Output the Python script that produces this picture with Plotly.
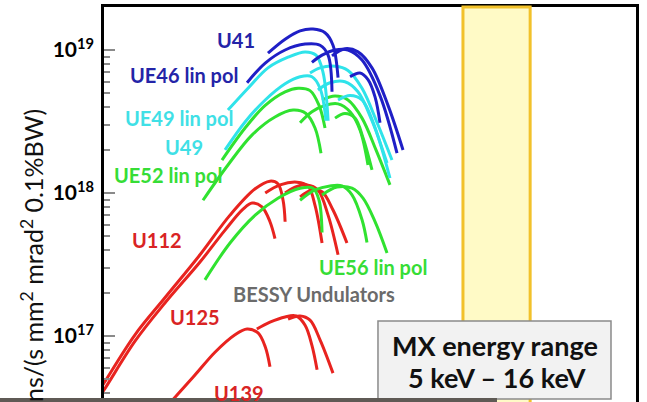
import plotly.graph_objects as go
import numpy as np

# ---- data: photon energy (eV) and brilliance (ph/(s mm^2 mrad^2 0.1%BW)) ----
# U41 / UE46 (dark blue)
u41_a_ev = [171, 230, 298, 373, 459, 527, 575]
u41_a_b = [9.5e18, 1.19e19, 1.36e19, 1.40e19, 1.32e19, 1.08e19, 6.4e18]
ue46_a_ev = [119, 163, 230, 325, 421, 484, 518]
ue46_a_b = [5.9e18, 8.1e18, 1.0e19, 1.10e19, 1.08e19, 9.2e18, 5.1e18]
u41_b_ev = [366, 436, 546, 683, 871, 1189, 1596]
u41_b_b = [8.2e18, 9.2e18, 1.0e19, 1.0e19, 8.5e18, 4.8e18, 1.9e18]
ue46_b_ev = [518, 648, 812, 1035, 1366, 1771]
ue46_b_b = [9.1e18, 1.02e19, 9.7e18, 7.5e18, 4.1e18, 2.0e18]
u41_c_ev = [708, 841, 966, 1091, 1189]
u41_c_b = [6.5e18, 6.9e18, 6.2e18, 4.7e18, 3.1e18]

# UE49 / U49 (cyan)
ue49_a_ev = [85.5, 121, 171, 242, 325, 393, 443, 484]
ue49_a_b = [3.8e18, 5.4e18, 7.5e18, 8.9e18, 9.7e18, 9.2e18, 7.0e18, 3.2e18]
u49_a_ev = [81.3, 115, 163, 230, 298, 366, 421, 467]
u49_a_b = [2.0e18, 3.14e18, 4.47e18, 5.8e18, 6.5e18, 6.5e18, 5.4e18, 3.2e18]
ue49_b_ev = [354, 421, 546, 683, 871, 1148, 1463]
ue49_b_b = [6.9e18, 7.5e18, 7.7e18, 7.2e18, 5.4e18, 3.0e18, 1.7e18]
u49_b_ev = [406, 500, 648, 812, 1035, 1343]
u49_b_b = [5.25e18, 5.9e18, 6.0e18, 5.1e18, 3.2e18, 1.62e18]
u49_c_ev = [575, 708, 871, 1072, 1413]
u49_c_b = [4.47e18, 4.8e18, 4.47e18, 3.0e18, 1.27e18]

# UE52 (green, upper group)
ue52_a_ev = [77.1, 115, 163, 230, 288, 354, 414, 459]
ue52_a_b = [1.7e18, 2.85e18, 4.1e18, 5.1e18, 5.4e18, 5.2e18, 4.1e18, 2.85e18]
ue52_b_ev = [55.5, 85.5, 130, 193, 264, 330, 386, 428]
ue52_b_b = [8.9e17, 1.57e18, 2.55e18, 3.4e18, 3.8e18, 3.6e18, 2.85e18, 1.9e18]
ue52_c_ev = [298, 366, 459, 575, 708, 841, 966]
ue52_c_b = [3.1e18, 3.7e18, 4.1e18, 4.2e18, 3.7e18, 2.76e18, 1.57e18]
ue52_d_ev = [436, 546, 683, 871, 1109, 1413]
ue52_d_b = [4.47e18, 4.76e18, 4.47e18, 3.34e18, 2.0e18, 1.14e18]
ue52_e_ev = [546, 648, 771, 886, 1035]
ue52_e_b = [3.34e18, 3.6e18, 3.34e18, 2.43e18, 1.45e18]

# UE56 (green, lower group)
ue56_a_ev = [57.4, 88.6, 137, 203, 298, 373, 414, 436]
ue56_a_b = [2.47e17, 4.47e17, 7.0e17, 9.2e17, 1.08e18, 1.08e18, 8.9e17, 5.3e17]
ue56_b_ev = [298, 386, 500, 616, 732, 871, 949]
ue56_b_b = [8.9e17, 1.05e18, 1.12e18, 1.12e18, 9.7e17, 6.5e17, 4.5e17]
ue56_c_ev = [436, 565, 732, 886, 1091, 1343]
ue56_c_b = [9.7e17, 1.10e18, 1.08e18, 9.2e17, 6.3e17, 3.8e17]

# U112 (red)
u112_a_ev = [7.85, 10, 17.1, 28.7, 52.7, 88.6, 137, 177, 203, 222, 230]
u112_a_b = [3.29e16, 4.69e16, 1.02e17, 1.85e17, 3.7e17, 7.0e17, 1.07e18, 1.21e18, 1.16e18, 8.9e17, 6.3e17]
u112_b_ev = [7.85, 10, 17.1, 28.7, 52.7, 81.3, 111, 130, 154, 177, 193]
u112_b_b = [2.99e16, 4.19e16, 9.2e16, 1.70e17, 3.29e17, 5.5e17, 7.7e17, 8.5e17, 8.0e17, 6.3e17, 4.8e17]
u112_c_ev = [163, 211, 283, 342, 386, 436]
u112_c_b = [1.0e18, 1.14e18, 1.19e18, 1.12e18, 8.2e17, 4.47e17]
u112_d_ev = [230, 273, 336, 406, 484, 575]
u112_d_b = [1.0e18, 1.10e18, 1.14e18, 1.05e18, 7.0e17, 3.7e17]
u112_e_ev = [298, 366, 436, 527, 671]
u112_e_b = [9.4e17, 1.05e18, 1.02e18, 7.6e17, 4.47e17]

# U125 / U139 (red, bottom)
u125_a_ev = [31.3, 48.3, 68.3, 96.6, 119, 144, 163, 177]
u125_a_b = [3.40e16, 5.33e16, 7.7e16, 1.02e17, 1.12e17, 1.05e17, 8.4e16, 6.1e16]
u125_b_ev = [141, 177, 230, 278, 325, 366, 400]
u125_b_b = [1.12e17, 1.25e17, 1.36e17, 1.38e17, 1.19e17, 8.6e16, 5.8e16]
u125_c_ev = [242, 298, 354, 421, 527]
u125_c_b = [1.31e17, 1.38e17, 1.29e17, 9.4e16, 5.5e16]

mx_range_ev = [5000, 16000]
x_range_ev = [10, 100000]
y_tick_vals = [1e17, 1e18, 1e19]
y_tick_text = ["10<sup>17</sup>", "10<sup>18</sup>", "10<sup>19</sup>"]

RED = "#e8231f"
GREEN = "#30e230"
CYAN = "#2fe3ea"
BLUE = "#1f1fc6"

curves = [
    (u125_a_ev, u125_a_b, RED), (u125_b_ev, u125_b_b, RED), (u125_c_ev, u125_c_b, RED),
    (u112_a_ev, u112_a_b, RED), (u112_b_ev, u112_b_b, RED), (u112_c_ev, u112_c_b, RED),
    (u112_d_ev, u112_d_b, RED), (u112_e_ev, u112_e_b, RED),
    (ue56_a_ev, ue56_a_b, GREEN), (ue56_b_ev, ue56_b_b, GREEN), (ue56_c_ev, ue56_c_b, GREEN),
    (ue52_a_ev, ue52_a_b, GREEN), (ue52_b_ev, ue52_b_b, GREEN), (ue52_c_ev, ue52_c_b, GREEN),
    (ue52_d_ev, ue52_d_b, GREEN), (ue52_e_ev, ue52_e_b, GREEN),
    (ue49_a_ev, ue49_a_b, CYAN), (u49_a_ev, u49_a_b, CYAN), (ue49_b_ev, ue49_b_b, CYAN),
    (u49_b_ev, u49_b_b, CYAN), (u49_c_ev, u49_c_b, CYAN),
    (u41_a_ev, u41_a_b, BLUE), (ue46_a_ev, ue46_a_b, BLUE), (u41_b_ev, u41_b_b, BLUE),
    (ue46_b_ev, ue46_b_b, BLUE), (u41_c_ev, u41_c_b, BLUE),
]

fig = go.Figure()
for ev, b, col in curves:
    fig.add_trace(go.Scatter(x=ev, y=b, mode="lines",
                             line=dict(color=col, width=3, shape="spline", smoothing=1.0),
                             hoverinfo="skip", showlegend=False))

minor_vals = [k * 10.0 ** n for n in (16, 17, 18) for k in range(2, 10)]
lr = np.log10(x_range_ev)

fig.update_layout(
    width=647, height=402,
    margin=dict(l=104, r=11, t=7, b=0),
    paper_bgcolor="white", plot_bgcolor="white",
    showlegend=False,
    xaxis=dict(type="log", range=list(lr), side="top", showline=True, linecolor="black",
               linewidth=2.5, showticklabels=False, ticks="", showgrid=False, zeroline=False),
    yaxis=dict(type="log", range=[16.5385, 19.3007], showline=True, mirror=True,
               linecolor="black", linewidth=2.5, showgrid=False, zeroline=False,
               tickmode="array", tickvals=y_tick_vals, ticktext=y_tick_text,
               ticks="inside", ticklen=11, tickwidth=1.5, tickcolor="#8a8a8a",
               ticklabelstandoff=3,
               tickfont=dict(family="Lato", size=21, color="black", weight="bold"),
               minor=dict(tickmode="array", tickvals=minor_vals, ticks="inside",
                          ticklen=6, tickwidth=1.5, tickcolor="#8a8a8a", showgrid=False)),
)

# MX energy band, positioned via the log x-axis range
bx = (np.log10(mx_range_ev) - lr[0]) / (lr[1] - lr[0])
fig.add_shape(type="rect", xref="paper", yref="paper", x0=bx[0], x1=bx[1], y0=-0.02, y1=1.0,
              fillcolor="#fffac6", line=dict(color="#f2c12a", width=3), layer="above")
fig.add_shape(type="rect", xref="paper", yref="paper", x0=0.515, x1=0.953, y0=0.0076, y1=0.2051,
              fillcolor="#f2f2f2", line=dict(color="#8a8a8a", width=1.5), layer="above")
fig.add_shape(type="rect", xref="paper", yref="paper", x0=-0.2, x1=0.7387, y0=-0.02, y1=0.0101,
              fillcolor="#5f5a55", line=dict(width=0), layer="above")

def label(text, x, y, color, size=20, weight="bold", **kw):
    fig.add_annotation(text=text, xref="paper", yref="paper", x=x, y=y, showarrow=False,
                       xanchor="center", yanchor="middle",
                       font=dict(family="Lato", size=size, color=color, weight=weight), **kw)

label("U41", 0.2481, 0.9165, "#2424a8")
label("UE46 lin pol", 0.1504, 0.8278, "#2424a8")
label("UE49 lin pol", 0.1410, 0.7190, "#3fe0e6")
label("U49", 0.1504, 0.6456, "#3fe0e6")
label("UE52 lin pol", 0.1203, 0.5747, "#36dd36")
label("U112", 0.0996, 0.4101, "#d92424")
label("UE56 lin pol", 0.5056, 0.3418, "#36dd36")
label("BESSY Undulators", 0.3947, 0.2734, "#6b6b6b", size=20)
label("U125", 0.1711, 0.2152, "#d92424")
label("U139", 0.2538, 0.0228, "#d92424")
label("MX energy range", 0.7350, 0.1443, "#111111", size=27)
label("5 keV \u2013 16 keV", 0.7387, 0.0608, "#111111", size=27)

fig.add_annotation(text="Brilliance photons/(s mm<sup>2</sup> mrad<sup>2</sup> 0.1%BW)",
                   xref="paper", yref="paper", x=-0.1353, y=0.7468, showarrow=False,
                   xanchor="center", yanchor="top", textangle=-90,
                   font=dict(family="Lato", size=25, color="#111111"))

fig.write_html("out.html", config={"displayModeBar": False},
               post_script="document.body.style.margin='0px';")
